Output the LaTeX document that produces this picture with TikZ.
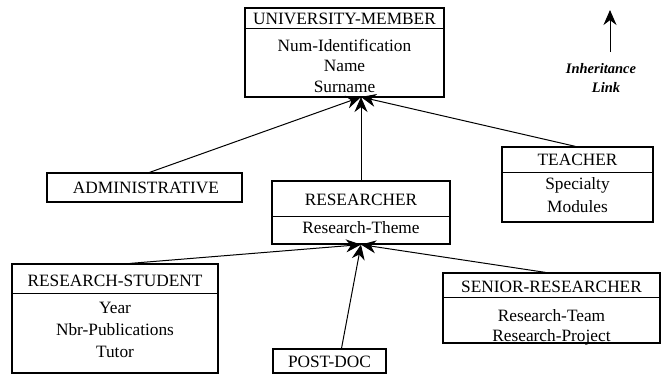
\documentclass[tikz,border=0pt]{standalone}
\usepackage{fontspec}
\setmainfont{Liberation Serif}
\usetikzlibrary{arrows.meta}
\begin{document}
\begin{tikzpicture}[x=1pt,y=-1pt,
  box/.style={draw,line width=1.2pt,rectangle,inner sep=0pt},
  txt/.style={inner sep=0pt,font=\fontsize{17.3}{20}\selectfont},
  inh/.style={line width=1pt,-{Stealth[length=15pt,width=13pt]}},
  divider/.style={line width=0.9pt},
  legend/.style={inner sep=0pt,font=\fontsize{14.5}{16}\selectfont\itshape\bfseries}]
\useasboundingbox (0,0) rectangle (667,375);
% UNIVERSITY-MEMBER
\node[box,minimum width=199pt,minimum height=89pt] (um) at (344.5,52.5) {};
\draw[line width=2.2pt] (245,8) -- (444,8);
\draw[divider] (245,28) -- (444,28);
\node[txt] (umh) at (344.5,18.5) {UNIVERSITY-MEMBER};
\node[txt] (um1) at (344.5,45) {Num-Identification};
\node[txt] (um2) at (344.5,66) {Name};
\node[txt] (um3) at (344.5,87) {Surname};
\coordinate (umt) at (361,97);
% ADMINISTRATIVE
\node[box,minimum width=195pt,minimum height=29pt] (adm) at (144.5,187.5) {};
\node[txt] (admh) at (146,188) {ADMINISTRATIVE};
% RESEARCHER
\node[box,minimum width=178pt,minimum height=63pt] (res) at (361,212.5) {};
\draw[divider] (272,216) -- (450,216);
\node[txt] (resh) at (361,199.5) {RESEARCHER};
\node[txt] (res1) at (361,228) {Research-Theme};
% TEACHER
\node[box,minimum width=151pt,minimum height=75pt] (tea) at (577.5,184.5) {};
\draw[divider] (502,172) -- (653,172);
\node[txt] (teah) at (577.5,160) {TEACHER};
\node[txt] (tea1) at (577.5,185) {Specialty};
\node[txt] (tea2) at (577.5,207) {Modules};
% RESEARCH-STUDENT
\node[box,minimum width=206pt,minimum height=109pt] (rs) at (115,318.5) {};
\draw[line width=2.2pt] (12,264) -- (12,373);
\draw[divider] (12,293) -- (218,293);
\node[txt] (rsh) at (115,281) {RESEARCH-STUDENT};
\node[txt] (rs1) at (115,308) {Year};
\node[txt] (rs2) at (115,330) {Nbr-Publications};
\node[txt] (rs3) at (115,352) {Tutor};
% SENIOR-RESEARCHER
\node[box,minimum width=217pt,minimum height=70pt] (sr) at (551.5,308) {};
\draw[divider] (443,297) -- (660,297);
\node[txt] (srh) at (551.5,287) {SENIOR-RESEARCHER};
\node[txt] (sr1) at (551.5,316) {Research-Team};
\node[txt] (sr2) at (551.5,337) {Research-Project};
% POST-DOC
\node[box,minimum width=113pt,minimum height=24pt] (pd) at (329.5,361) {};
\node[txt] (pdh) at (329.5,361.5) {POST-DOC};
% inheritance links
\draw[inh] ([xshift=5pt]adm.north) -- (umt);
\draw[inh] (res.north) -- (umt);
\draw[inh] ([xshift=-2pt]tea.north) -- (umt);
\draw[inh] ([xshift=15pt]rs.north) -- (res.south);
\draw[inh] ([xshift=12pt]pd.north) -- (res.south);
\draw[inh] ([xshift=-6pt]sr.north) -- (res.south);
% legend
\coordinate (lgb) at (610,52);
\coordinate (lgt) at (610,10);
\draw[inh] (lgb) -- (lgt);
\node[legend] (lg1) at (601,69) {Inheritance};
\node[legend] (lg2) at (606,87) {Link};
\end{tikzpicture}
\end{document}
